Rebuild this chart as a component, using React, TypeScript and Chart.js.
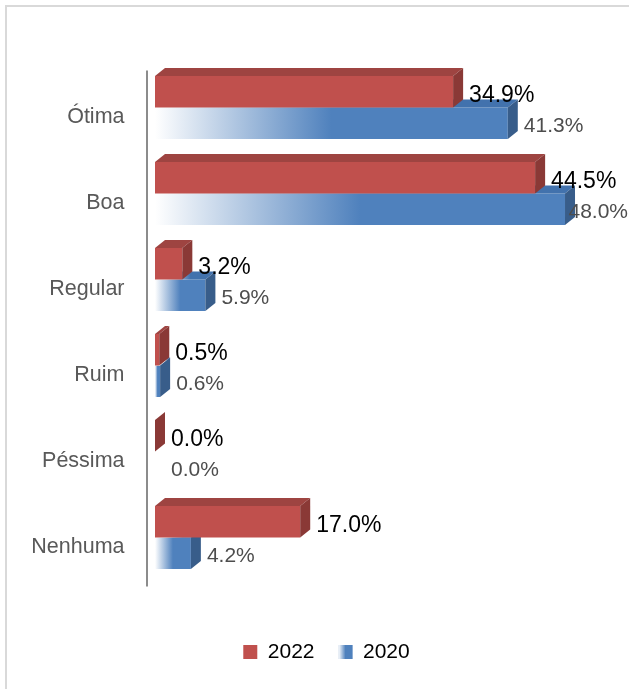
import { useEffect, useRef } from 'react';
import { Chart, registerables } from 'chart.js';

Chart.register(...registerables);

const categories = ['Ótima', 'Boa', 'Regular', 'Ruim', 'Péssima', 'Nenhuma'];
const seriesNames = ['2022', '2020'];
const values2022 = [34.9, 44.5, 3.2, 0.5, 0.0, 17.0];
const values2020 = [41.3, 48.0, 5.9, 0.6, 0.0, 4.2];

const RED = '#C0504D';
const RED_TOP = '#9E4441';
const RED_SIDE = '#8A3936';
const BLUE = '#4F81BD';
const BLUE_TOP = '#4272AD';
const BLUE_SIDE = '#385D8A';
const DX = 10;
const DY = 8;
const FONT = "'Liberation Sans', Arial, sans-serif";

function hGrad(ctx: CanvasRenderingContext2D, x0: number, x1: number, color: string) {
  if (!isFinite(x0) || !isFinite(x1) || x1 - x0 < 0.5) return color;
  const g = ctx.createLinearGradient(x0, 0, x1, 0);
  g.addColorStop(0, '#FFFFFF');
  g.addColorStop(0.5, color);
  g.addColorStop(1, color);
  return g;
}

const threeD = {
  id: 'threeD',
  beforeDraw(chart: any) {
    const ctx = chart.ctx;
    ctx.save();
    ctx.strokeStyle = '#D9D9D9';
    ctx.lineWidth = 2;
    ctx.beginPath();
    ctx.moveTo(6, chart.height);
    ctx.lineTo(6, 6);
    ctx.lineTo(chart.width, 6);
    ctx.stroke();
    ctx.restore();
  },
  beforeDatasetsDraw(chart: any) {
    const ctx = chart.ctx;
    const a = chart.chartArea;
    ctx.save();
    ctx.strokeStyle = '#8C8C8C';
    ctx.lineWidth = 2;
    ctx.beginPath();
    ctx.moveTo(a.left - 8, a.top + 6);
    ctx.lineTo(a.left - 8, a.bottom + 6);
    ctx.stroke();
    ctx.restore();
  },
  afterDatasetDraw(chart: any, args: any) {
    const ctx = chart.ctx;
    const isBlue = args.index === 1;
    ctx.save();
    args.meta.data.forEach((el: any) => {
      const p = el.getProps(['x', 'y', 'base', 'height'], true);
      const x0 = p.base;
      const x1 = p.x;
      const top = p.y - p.height / 2;
      const bot = p.y + p.height / 2;
      const len = x1 - x0;
      if (!isFinite(len)) return;
      if (isBlue && len < 1) return;
      if (len > 0) {
        ctx.fillStyle = isBlue ? hGrad(ctx, x0 + DX, x1 + DX, BLUE_TOP) : RED_TOP;
        ctx.beginPath();
        ctx.moveTo(x0, top);
        ctx.lineTo(x1, top);
        ctx.lineTo(x1 + DX, top - DY);
        ctx.lineTo(x0 + DX, top - DY);
        ctx.closePath();
        ctx.fill();
      }
      ctx.fillStyle = isBlue ? BLUE_SIDE : RED_SIDE;
      ctx.beginPath();
      ctx.moveTo(x1, top);
      ctx.lineTo(x1 + DX, top - DY);
      ctx.lineTo(x1 + DX, bot - DY);
      ctx.lineTo(x1, bot);
      ctx.closePath();
      ctx.fill();
    });
    ctx.restore();
  },
  afterDatasetsDraw(chart: any) {
    const ctx = chart.ctx;
    ctx.save();
    ctx.textBaseline = 'middle';
    ctx.textAlign = 'left';
    chart.data.datasets.forEach((ds: any, i: number) => {
      const meta = chart.getDatasetMeta(i);
      ctx.font = (i === 0 ? '23px ' : '21px ') + FONT;
      ctx.fillStyle = i === 0 ? '#000000' : '#4D4D4D';
      meta.data.forEach((el: any, j: number) => {
        const p = el.getProps(['x', 'y'], true);
        const txt = Number(ds.data[j]).toFixed(1) + '%';
        const w = ctx.measureText(txt).width;
        let x = p.x + 16;
        if (x + w > 628) x = 628 - w;
        ctx.fillText(txt, x, p.y + (i === 0 ? 3.5 : 2.5));
      });
    });
    ctx.restore();
  },
  afterDraw(chart: any) {
    const lg = chart.legend;
    if (!lg || !lg.legendHitBoxes || !lg.legendHitBoxes[1]) return;
    const hb = lg.legendHitBoxes[1];
    const ctx = chart.ctx;
    const bx = hb.left;
    const by = hb.top + 3.5;
    ctx.save();
    ctx.fillStyle = '#FFFFFF';
    ctx.fillRect(bx, by, 14, 14);
    ctx.fillStyle = hGrad(ctx, bx, bx + 14, BLUE);
    ctx.fillRect(bx, by, 14, 14);
    ctx.restore();
  },
};

export default function App() {
  const ref = useRef<HTMLCanvasElement | null>(null);
  useEffect(() => {
    if (!ref.current) return;
    Chart.defaults.font.family = FONT;
    const chart = new Chart(ref.current, {
      type: 'bar',
      data: {
        labels: categories,
        datasets: [
          {
            label: seriesNames[0],
            data: values2022,
            backgroundColor: RED,
            borderWidth: 0,
            categoryPercentage: 0.733,
            barPercentage: 1,
          },
          {
            label: seriesNames[1],
            data: values2020,
            backgroundColor: (c: any) => {
              const xs = c.chart.scales && c.chart.scales.x;
              if (!xs || c.type !== 'data') return BLUE;
              const x0 = xs.getPixelForValue(0);
              const x1 = xs.getPixelForValue(c.raw);
              if (!isFinite(x0) || !isFinite(x1)) return BLUE;
              if (x1 - x0 < 1) return '#FFFFFF';
              return hGrad(c.chart.ctx, x0, x1, BLUE);
            },
            borderWidth: 0,
            categoryPercentage: 0.733,
            barPercentage: 1,
          },
        ],
      },
      options: {
        indexAxis: 'y',
        responsive: false,
        animation: false,
        devicePixelRatio: 1,
        layout: { padding: { top: 64.5, bottom: 16.5, left: 0, right: 0 } },
        scales: {
          x: {
            min: 0,
            max: 58.3,
            display: true,
            grid: { display: false, drawTicks: false },
            border: { display: false },
            ticks: { display: false },
            afterFit: (s: any) => {
              s.height = 37;
            },
          },
          y: {
            grid: { display: false, drawTicks: false },
            border: { display: false },
            ticks: {
              color: '#595959',
              font: { size: 21.5, family: FONT },
              padding: 30.5,
              labelOffset: 10,
            },
            afterFit: (s: any) => {
              s.width = 155;
            },
          },
        },
        plugins: {
          tooltip: { enabled: false },
          legend: {
            position: 'bottom',
            labels: {
              color: '#000000',
              font: { size: 21, family: FONT },
              boxWidth: 14,
              boxHeight: 14,
              padding: 24,
            },
          },
        },
      },
      plugins: [threeD],
    } as any);
    return () => chart.destroy();
  }, []);
  return (
    <div
      style={{
        position: 'fixed',
        left: 0,
        top: 0,
        width: 629,
        height: 689,
        overflow: 'hidden',
        background: '#FFFFFF',
      }}
    >
      <canvas ref={ref} width={653} height={689} style={{ display: 'block', width: 653, height: 689 }} />
    </div>
  );
}
